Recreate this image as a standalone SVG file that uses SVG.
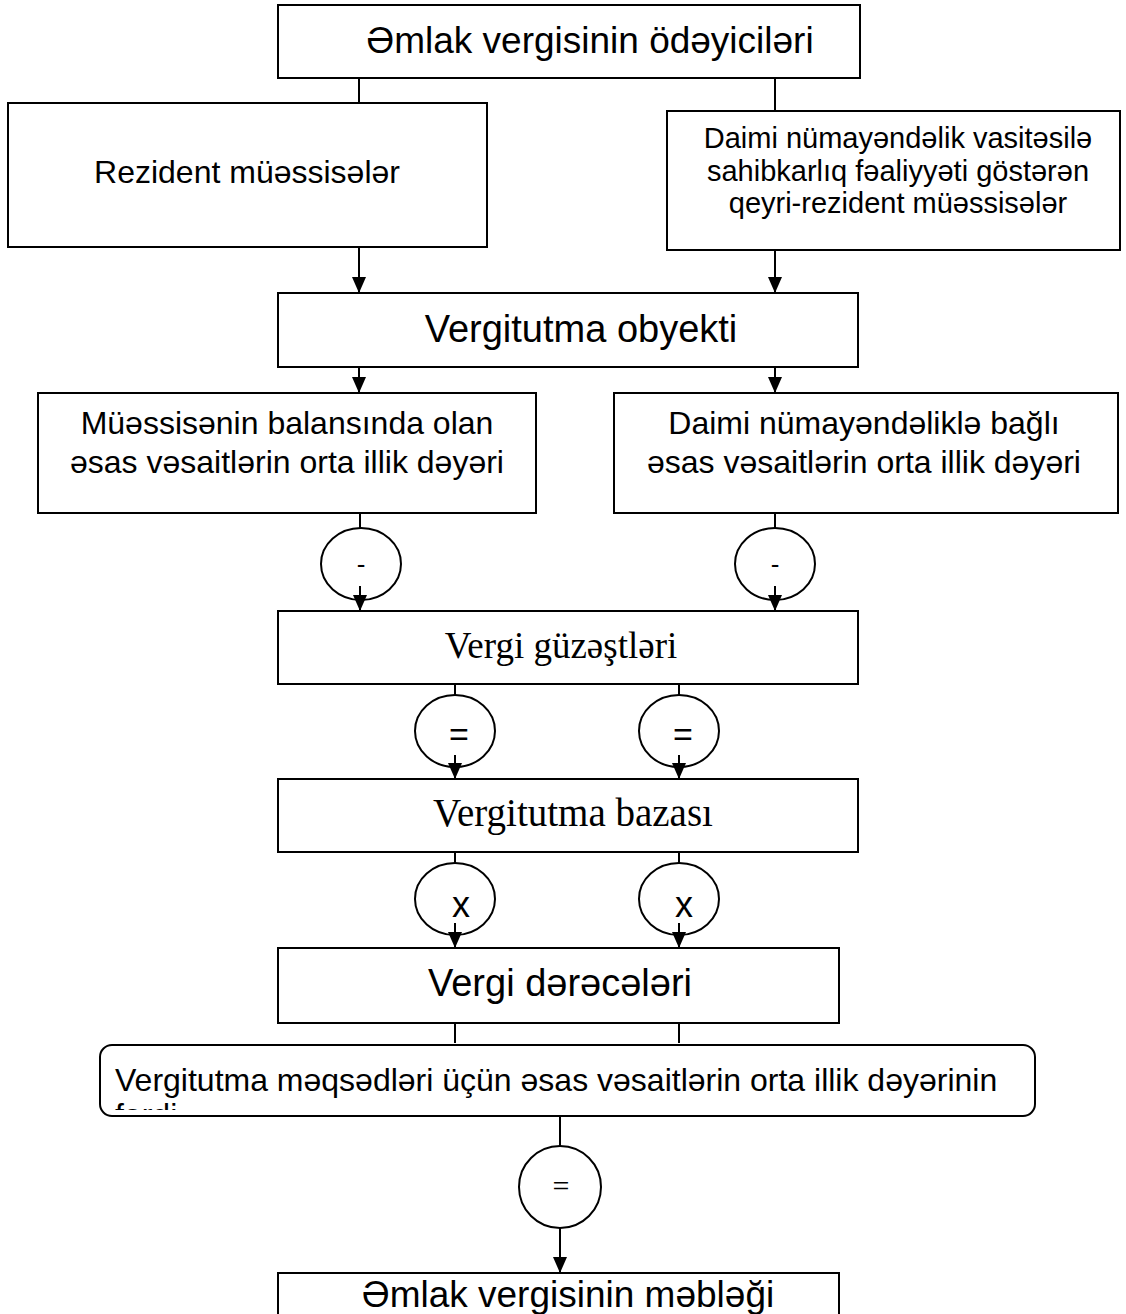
<svg xmlns="http://www.w3.org/2000/svg" width="1126" height="1314" viewBox="0 0 1126 1314">
<style>
.box{fill:#fff;stroke:#000;stroke-width:2}
.ell{fill:#fff;stroke:#000;stroke-width:2}
.ln{stroke:#000;stroke-width:2;fill:none}
.s{font-family:"Liberation Sans",Arial,sans-serif;fill:#000}
.t{font-family:"Liberation Serif","Times New Roman",serif;fill:#000}
</style>
<defs>
<marker id="ah" markerUnits="userSpaceOnUse" markerWidth="16" markerHeight="14" refX="16" refY="7" orient="auto" viewBox="0 0 16 14">
<path d="M0,0 L16,7 L0,14 Z" fill="#000"/>
</marker>
<clipPath id="rclip"><rect x="100" y="1045" width="935" height="65"/></clipPath>
</defs>
<rect width="1126" height="1314" fill="#fff"/>

<g id="connectors">
<line class="ln" x1="359" y1="78" x2="359" y2="103"/>
<line class="ln" x1="775" y1="78" x2="775" y2="111"/>
<line class="ln" x1="359" y1="247" x2="359" y2="293" marker-end="url(#ah)"/>
<line class="ln" x1="775" y1="250" x2="775" y2="293" marker-end="url(#ah)"/>
<line class="ln" x1="359" y1="367" x2="359" y2="393" marker-end="url(#ah)"/>
<line class="ln" x1="775" y1="367" x2="775" y2="393" marker-end="url(#ah)"/>
<line class="ln" x1="360" y1="504" x2="360" y2="528"/>
<line class="ln" x1="775" y1="504" x2="775" y2="528"/>
<line class="ln" x1="455" y1="672" x2="455" y2="695"/>
<line class="ln" x1="679" y1="672" x2="679" y2="695"/>
<line class="ln" x1="455" y1="845" x2="455" y2="863"/>
<line class="ln" x1="679" y1="845" x2="679" y2="863"/>
<line class="ln" x1="455" y1="1017" x2="455" y2="1043"/>
<line class="ln" x1="679" y1="1017" x2="679" y2="1043"/>
<line class="ln" x1="560" y1="1117" x2="560" y2="1146"/>
</g>

<g id="n1"><rect class="box" x="278" y="5" width="582" height="73"/><text class="s" x="590" y="53" font-size="37" text-anchor="middle">Əmlak vergisinin ödəyiciləri</text></g>
<g id="n2"><rect class="box" x="8" y="103" width="479" height="144"/><text class="s" x="247" y="183" font-size="32" text-anchor="middle">Rezident müəssisələr</text></g>
<g id="n3"><rect class="box" x="667" y="111" width="453" height="139"/><text class="s" font-size="29" text-anchor="middle"><tspan x="898" y="148">Daimi nümayəndəlik vasitəsilə</tspan><tspan x="898" y="181">sahibkarlıq fəaliyyəti göstərən</tspan><tspan x="898" y="213">qeyri-rezident müəssisələr</tspan></text></g>
<g id="n4"><rect class="box" x="278" y="293" width="580" height="74"/><text class="s" x="581" y="342" font-size="38" text-anchor="middle">Vergitutma obyekti</text></g>
<g id="n5"><rect class="box" x="38" y="393" width="498" height="120"/><text class="s" font-size="32" text-anchor="middle"><tspan x="287" y="434">Müəssisənin balansında olan</tspan><tspan x="287" y="473">əsas vəsaitlərin orta illik dəyəri</tspan></text></g>
<g id="n6"><rect class="box" x="614" y="393" width="504" height="120"/><text class="s" font-size="32" text-anchor="middle"><tspan x="864" y="434">Daimi nümayəndəliklə bağlı</tspan><tspan x="864" y="473">əsas vəsaitlərin orta illik dəyəri</tspan></text></g>

<g id="c1"><ellipse class="ell" cx="361" cy="564" rx="40" ry="36"/><text class="s" x="361" y="573" font-size="26" text-anchor="middle">-</text><line class="ln" x1="360" y1="586" x2="360" y2="611" marker-end="url(#ah)"/></g>
<g id="c2"><ellipse class="ell" cx="775" cy="564" rx="40" ry="36"/><text class="s" x="775" y="573" font-size="26" text-anchor="middle">-</text><line class="ln" x1="775" y1="586" x2="775" y2="611" marker-end="url(#ah)"/></g>

<g id="n7"><rect class="box" x="278" y="611" width="580" height="73"/><text class="t" x="561" y="658" font-size="37" text-anchor="middle">Vergi güzəştləri</text></g>

<g id="c3"><ellipse class="ell" cx="455" cy="731" rx="40" ry="36"/><text class="s" x="459" y="746" font-size="34" text-anchor="middle">=</text><line class="ln" x1="455" y1="755" x2="455" y2="779" marker-end="url(#ah)"/></g>
<g id="c4"><ellipse class="ell" cx="679" cy="731" rx="40" ry="36"/><text class="s" x="683" y="746" font-size="34" text-anchor="middle">=</text><line class="ln" x1="679" y1="755" x2="679" y2="779" marker-end="url(#ah)"/></g>

<g id="n8"><rect class="box" x="278" y="779" width="580" height="73"/><text class="t" x="573" y="826" font-size="39" text-anchor="middle">Vergitutma bazası</text></g>

<g id="c5"><ellipse class="ell" cx="455" cy="899" rx="40" ry="36"/><text class="s" x="461" y="917" font-size="36" text-anchor="middle">x</text><line class="ln" x1="455" y1="923" x2="455" y2="948" marker-end="url(#ah)"/></g>
<g id="c6"><ellipse class="ell" cx="679" cy="899" rx="40" ry="36"/><text class="s" x="684" y="917" font-size="36" text-anchor="middle">x</text><line class="ln" x1="679" y1="923" x2="679" y2="948" marker-end="url(#ah)"/></g>

<g id="n9"><rect class="box" x="278" y="948" width="561" height="75"/><text class="s" x="560" y="996" font-size="38" text-anchor="middle">Vergi dərəcələri</text></g>

<g id="n10"><rect class="box" x="100" y="1045" width="935" height="71" rx="12" ry="12"/><text class="s" x="115" y="1091" font-size="32">Vergitutma məqsədləri üçün əsas vəsaitlərin orta illik dəyərinin</text><text class="s" x="115" y="1126" font-size="32" clip-path="url(#rclip)">fərdi</text></g>

<g id="c7"><circle class="ell" cx="560" cy="1187" r="41"/><text class="t" x="561" y="1196" font-size="30" text-anchor="middle">=</text><line class="ln" x1="560" y1="1228" x2="560" y2="1273" marker-end="url(#ah)"/></g>

<g id="n11"><rect class="box" x="278" y="1273" width="561" height="60"/><text class="s" x="568" y="1307" font-size="37" text-anchor="middle">Əmlak vergisinin məbləği</text></g>
</svg>
